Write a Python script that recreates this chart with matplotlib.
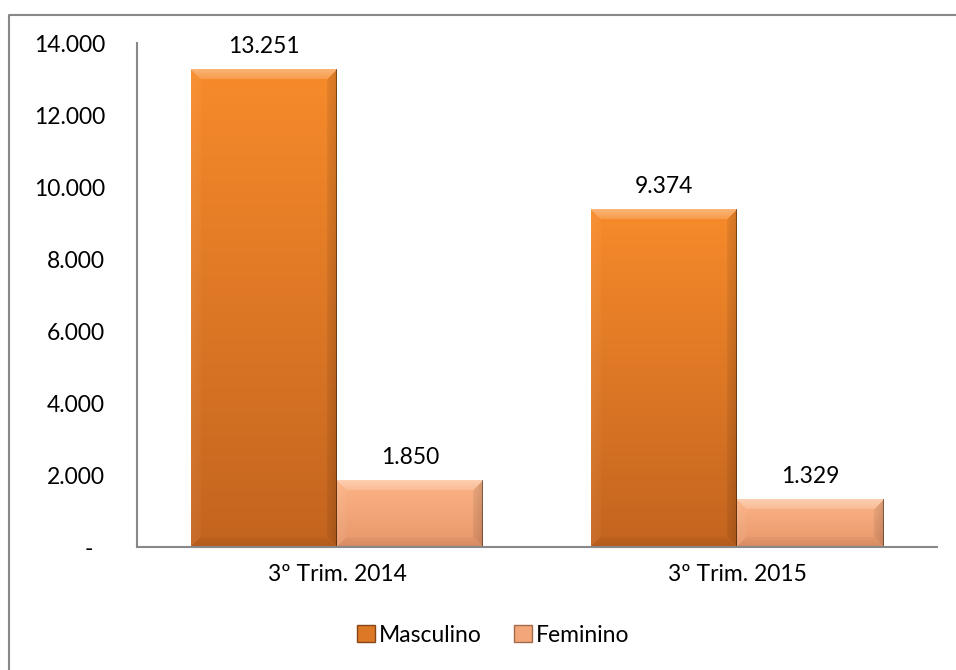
import numpy as np
import matplotlib
matplotlib.use("Agg")
import matplotlib.pyplot as plt
from matplotlib.patches import Rectangle
from matplotlib.lines import Line2D

categories = ["3º Trim. 2014", "3º Trim. 2015"]
series_names = ["Masculino", "Feminino"]
masculino = [13251, 9374]
feminino = [1850, 1329]
ytick_values = [0, 2000, 4000, 6000, 8000, 10000, 12000, 14000]
ytick_labels = ["-  ", "2.000", "4.000", "6.000", "8.000", "10.000", "12.000", "14.000"]
value_labels_m = ["13.251", "9.374"]
value_labels_f = ["1.850", "1.329"]

plt.rcParams['font.family'] = ['Lato', 'DejaVu Sans']

W, H = 956, 670
fig = plt.figure(figsize=(W / 100, H / 100), dpi=100)
ax = fig.add_axes([137 / W, 1 - 547 / H, 800 / W, 504 / H])

ymax = 14000
ax.set_xlim(-0.5, 1.5)
ax.set_ylim(0, ymax)
px_per_unit = 504 / ymax
bar_w = 0.365
bar_px = 146

def hex2rgb(h):
    h = h.lstrip('#')
    return np.array([int(h[i:i + 2], 16) / 255 for i in (0, 2, 4)])

styles = {
    "Masculino": (hex2rgb("#F78B2B"), hex2rgb("#C3641F")),
    "Feminino": (hex2rgb("#FCB486"), hex2rgb("#E8976B")),
}

def bar_image(height_px, top, bottom, bev=10):
    ny = max(int(round(height_px)), 2)
    nx = bar_px
    t = np.linspace(0, 1, ny)[:, None, None]
    base = top[None, None, :] * (1 - t) + bottom[None, None, :] * t
    img = np.repeat(base, nx, axis=1)
    yy, xx = np.mgrid[0:ny, 0:nx]
    d = np.stack([yy, ny - 1 - yy, xx, nx - 1 - xx])
    m = d.min(axis=0)
    which = d.argmin(axis=0)
    inband = m < bev
    # soft falloff inside bevel band
    f = np.clip(1 - m / bev, 0, 1)[..., None] * 0.6 + 0.4
    white = np.ones(3)
    out = img.copy()
    sel = inband & (which == 0)
    out[sel] = img[sel] * (1 - 0.35 * f[sel]) + white * 0.35 * f[sel]
    sel = inband & (which == 2)
    out[sel] = img[sel] * (1 - 0.06 * f[sel]) + white * 0.06 * f[sel]
    sel = inband & (which == 3)
    out[sel] = img[sel] * (1 - 0.15 * f[sel])
    sel = inband & (which == 1)
    out[sel] = img[sel] * (1 - 0.08 * f[sel])
    out[:, -1] = out[:, -1] * 0.6
    out[-1, :] = out[-1, :] * 0.8
    return np.clip(out, 0, 1)

x = np.arange(len(categories))
offsets = [-bar_w / 2, bar_w / 2]
for si, (name, vals, labs) in enumerate(zip(series_names, [masculino, feminino], [value_labels_m, value_labels_f])):
    top, bottom = styles[name]
    for xi, v, lab in zip(x, vals, labs):
        xc = xi + offsets[si]
        img = bar_image(v * px_per_unit, top, bottom)
        ax.imshow(img, extent=[xc - bar_w / 2, xc + bar_w / 2, 0, v], aspect='auto',
                  interpolation='bilinear', zorder=2, origin='upper')
        ax.annotate(lab, (xc, v), xytext=(0, 9), textcoords='offset points',
                    ha='center', va='bottom', fontsize=16.5, color='#000000')

ax.set_xlim(-0.5, 1.5)
ax.set_ylim(0, ymax)
ax.set_aspect('auto')

ax.set_yticks(ytick_values)
ax.set_yticklabels(ytick_labels)
ax.set_xticks(x)
ax.set_xticklabels(categories)
ax.tick_params(axis='y', length=0, pad=23, labelsize=16.5)
ax.tick_params(axis='x', length=0, pad=12, labelsize=16.5)
for s in ['top', 'right']:
    ax.spines[s].set_visible(False)
for s in ['left', 'bottom']:
    ax.spines[s].set_color('#888888')
    ax.spines[s].set_linewidth(1.5)

handles = [Rectangle((0, 0), 1, 1, facecolor=styles[n][1] * 0.5 + styles[n][0] * 0.5,
                     edgecolor=styles[n][1] * 0.7) for n in series_names]
fig.legend(handles, series_names, loc='center', bbox_to_anchor=(493 / W, 1 - 635 / H),
           ncol=2, frameon=False, fontsize=16.5, handlelength=0.8, handleheight=0.8,
           handletextpad=0.15, columnspacing=1.4)

fig.add_artist(Line2D([8.5 / W, 8.5 / W, 1], [0, 1 - 14.5 / H, 1 - 14.5 / H],
                      transform=fig.transFigure, color='#888888', lw=1.5))

fig.savefig("out.png", dpi=100)
